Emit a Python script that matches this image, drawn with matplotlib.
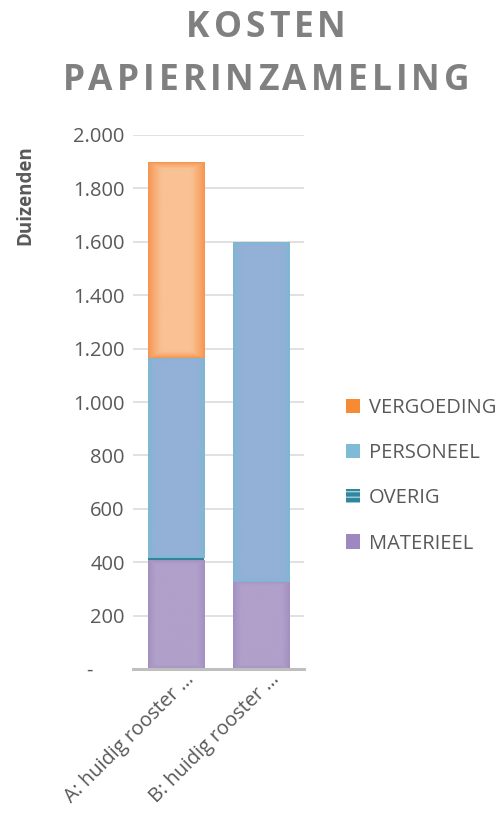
import matplotlib
matplotlib.use("Agg")
import matplotlib.pyplot as plt
import matplotlib.transforms as mtransforms
from matplotlib.patches import Patch
import numpy as np

# ── data ─
categories = ["A: huidig rooster …", "B: huidig rooster …"]
materieel = [407, 327]
overig = [8, 0]
personeel = [750, 1273]
vergoeding = [734, 0]
y_ticks = [0, 200, 400, 600, 800, 1000, 1200, 1400, 1600, 1800, 2000]
y_tick_labels = ["-      ", "200", "400", "600", "800", "1.000", "1.200",
                 "1.400", "1.600", "1.800", "2.000"]
title_lines = ["KOSTEN", "PAPIERINZAMELING"]
legend_labels = ["VERGOEDING", "PERSONEEL", "OVERIG", "MATERIEEL"]

FONT = ["Open Sans", "DejaVu Sans"]
GREY = "#595959"
W, H = 503, 815

plt.rcParams["font.family"] = FONT
fig = plt.figure(figsize=(W / 100, H / 100), dpi=100)
ax = fig.add_axes([133 / W, 1 - 669 / H, 171 / W, 534 / H])

x = np.arange(len(categories))
bw = 0.655
b1 = np.array(materieel)
b2 = b1 + np.array(overig)
b3 = b2 + np.array(personeel)

bars_m = ax.bar(x, materieel, bw, color="#AA99C5", zorder=2)
bars_o = ax.bar(x, overig, bw, bottom=b1, color="#31849B", zorder=3)
bars_p = ax.bar(x, personeel, bw, bottom=b2, color="#8FB2D5", zorder=2)
bars_v = ax.bar(x, vergoeding, bw, bottom=b3, color="#F8BC8A", zorder=2)

ax.set_xlim(-0.5, len(categories) - 0.5)
ax.set_ylim(0, 2000)


def glow(bars, edge, center, depth=10):
    """Soft inner-glow fill like the Office bar style."""
    e = np.array(matplotlib.colors.to_rgb(edge))
    c = np.array(matplotlib.colors.to_rgb(center))
    for p in bars:
        if p.get_height() <= 0:
            continue
        bb = p.get_window_extent()
        w, h = max(int(bb.width), 2), max(int(bb.height), 2)
        xx = np.arange(w) + 0.5
        yy = np.arange(h) + 0.5
        dx = np.minimum(xx, w - xx)[None, :]
        dy = np.minimum(yy, h - yy)[:, None] * 2.0
        t = np.clip(np.minimum(dx, dy) / depth, 0, 1) ** 0.8
        img = e[None, None, :] * (1 - t[..., None]) + c[None, None, :] * t[..., None]
        x0, y0 = p.get_xy()
        im = ax.imshow(img, extent=(x0, x0 + p.get_width(), y0, y0 + p.get_height()),
                       aspect="auto", zorder=2.5, interpolation="bilinear")
        im.set_clip_path(p)


glow(bars_m, "#A28DC0", "#B0A0CA", depth=8)
glow(bars_p, "#7DB8D3", "#93B0D6", depth=8)
glow(bars_v, "#F5924A", "#F9C295", depth=14)

ax.set_xlim(-0.5, len(categories) - 0.5)
ax.set_ylim(0, 2000)

# grid & spines
ax.set_yticks(y_ticks)
ax.set_yticklabels(y_tick_labels)
ax.yaxis.grid(True, color="#D9D9D9", lw=1.1, zorder=0)
ax.set_axisbelow(True)
for s in ["top", "right", "left"]:
    ax.spines[s].set_visible(False)
ax.spines["bottom"].set_color("#BFBFBF")
ax.spines["bottom"].set_linewidth(2.2)
ax.spines["bottom"].set_zorder(4)
ax.tick_params(axis="y", length=0, pad=6, labelsize=14.5, labelcolor=GREY)
ax.tick_params(axis="x", length=0, pad=4, labelsize=14.3, labelcolor=GREY)

ax.set_xticks(x)
ax.set_xticklabels(categories, rotation=45, ha="right", va="center",
                   rotation_mode="anchor")
off = mtransforms.ScaledTranslation(15 / 100, -2 / 100, fig.dpi_scale_trans)
for lab in ax.get_xticklabels():
    lab.set_transform(lab.get_transform() + off)

# y-axis unit label
fig.text(25 / W, 1 - 195 / H, "Duizenden", rotation=90, ha="center", va="center",
         fontsize=13.5, weight="bold", color=GREY)

# title with letter spacing
renderer = fig.canvas.get_renderer()


def spaced(text, base_y, size, spacing, cx):
    widths = []
    for ch in text:
        t = fig.text(0, 0, ch, fontsize=size, weight="bold")
        widths.append(t.get_window_extent(renderer).width)
        t.remove()
    total = sum(widths) + spacing * (len(text) - 1)
    xp = cx - total / 2
    for ch, w in zip(text, widths):
        fig.text(xp / W, 1 - base_y / H, ch, fontsize=size, weight="bold",
                 color="#808080", ha="left", va="baseline")
        xp += w + spacing


spaced(title_lines[0], 37, 25.5, 4.0, 266)
spaced(title_lines[1], 90, 25.5, 4.0, 266)

# legend
handles = [
    Patch(facecolor="#F68B33", edgecolor="none"),
    Patch(facecolor="#7FBAD6", edgecolor="none"),
    Patch(facecolor="#31859C", edgecolor="#9FD0DD", hatch="---", lw=0),
    Patch(facecolor="#9F88BF", edgecolor="none"),
]
leg = fig.legend(handles, legend_labels, loc="upper left",
                 bbox_to_anchor=(346 / W, 1 - 398 / H), frameon=False,
                 fontsize=14.5, labelcolor=GREY, handlelength=0.7, handleheight=0.7,
                 handletextpad=0.45, labelspacing=1.25, borderpad=0, borderaxespad=0)

fig.savefig("out.png", dpi=100)
